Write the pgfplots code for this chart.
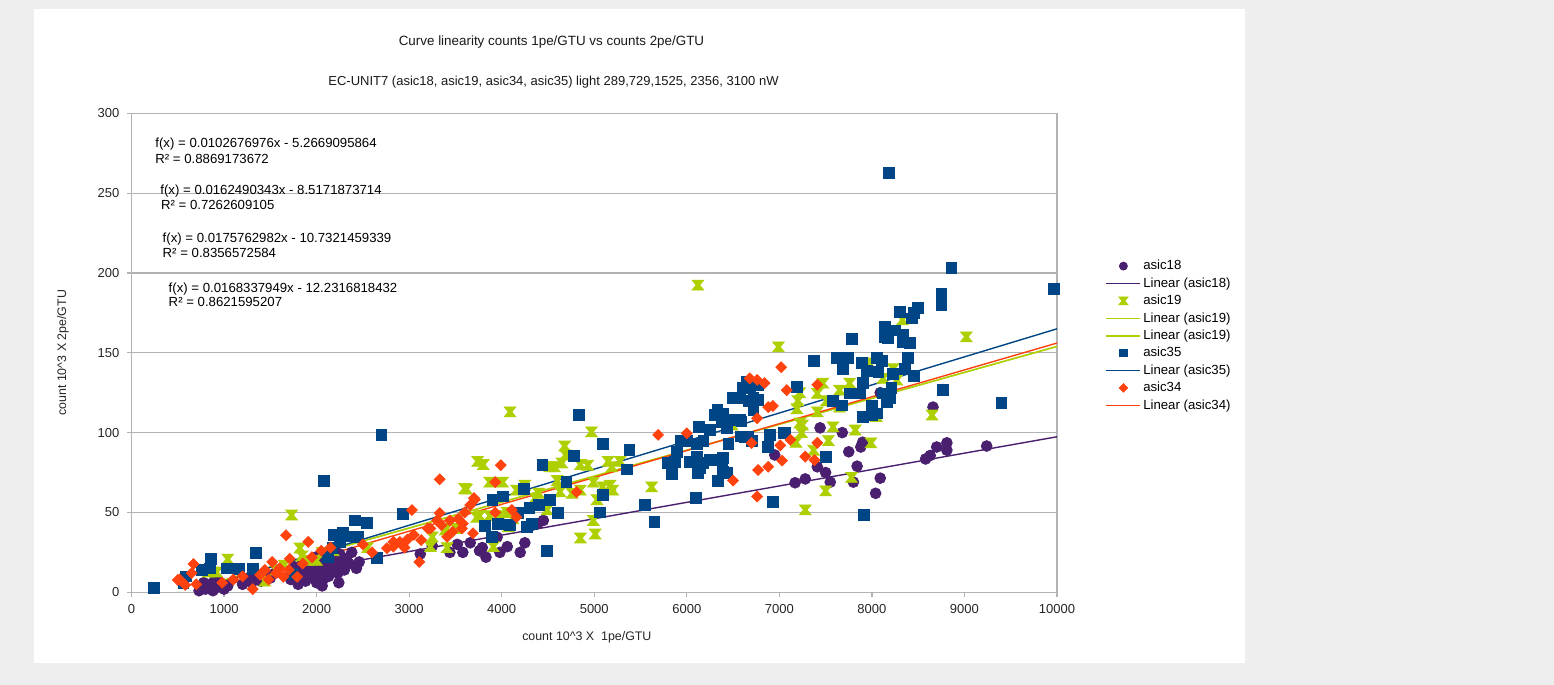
\documentclass[border=0pt]{standalone}
\usepackage{pgfplots}
\pgfplotsset{compat=1.18}
\usepackage{fontspec}
\setmainfont{Liberation Sans}
\definecolor{c18}{HTML}{4B1F6F}
\definecolor{c19}{HTML}{AECF00}
\definecolor{c35}{HTML}{004586}
\definecolor{c34}{HTML}{FF420E}
\definecolor{gridgray}{HTML}{B3B3B3}
\definecolor{bggray}{HTML}{EEEEEE}
\pgfdeclareplotmark{hourglass}{%
  \pgfpathmoveto{\pgfpoint{-\pgfplotmarksize}{0.85\pgfplotmarksize}}%
  \pgfpathlineto{\pgfpoint{\pgfplotmarksize}{0.85\pgfplotmarksize}}%
  \pgfpathlineto{\pgfpoint{0.3\pgfplotmarksize}{0pt}}%
  \pgfpathlineto{\pgfpoint{\pgfplotmarksize}{-0.85\pgfplotmarksize}}%
  \pgfpathlineto{\pgfpoint{-\pgfplotmarksize}{-0.85\pgfplotmarksize}}%
  \pgfpathlineto{\pgfpoint{-0.3\pgfplotmarksize}{0pt}}%
  \pgfpathclose
  \pgfusepathqfillstroke
}
\newcommand{\fs}[1]{\fontsize{#1}{#1}\selectfont}
\begin{document}
\begin{tikzpicture}[x=1pt,y=1pt]
\fill[bggray] (0,0) rectangle (777,342.5);
\fill[white] (17,11) rectangle (622.5,338);
\begin{axis}[
  at={(65.75pt,46.35pt)}, anchor=south west,
  scale only axis, width=462.75pt, height=239.5pt,
  xmin=0, xmax=10000, ymin=0, ymax=300,
  xtick={0,1000,...,10000}, ytick={0,50,...,300},
  xtick pos=lower, ytick pos=left,
  tick align=outside, major tick length=2.5pt,
  tick style={gridgray, line width=0.6pt},
  axis line style={gridgray, line width=0.6pt},
  ymajorgrids, grid style={gridgray, line width=0.6pt},
  scaled x ticks=false, scaled y ticks=false,
  tick label style={font=\fs{6.5}, text=black!85},
  /pgf/number format/1000 sep={},
  /pgf/number format/assume math mode=true,
  clip=false,
  legend style={draw=none, fill=none, at={(1.052,0.70)}, anchor=north west,
    font=\fs{6.6}, inner sep=0pt, row sep=0pt,
    nodes={inner sep=1pt, text height=5.2pt, text depth=1.5pt}},
  legend cell align=left,
]
\addlegendimage{only marks, mark=*, mark size=2pt, c18}
\addlegendentry{asic18}
\addlegendimage{draw=c18, line width=0.8pt}
\addlegendentry{Linear (asic18)}
\addlegendimage{only marks, mark=hourglass, mark size=2.3pt, c19}
\addlegendentry{asic19}
\addlegendimage{draw=c19, line width=0.8pt}
\addlegendentry{Linear (asic19)}
\addlegendimage{draw=c19, line width=0.8pt}
\addlegendentry{Linear (asic19)}
\addlegendimage{only marks, mark=square*, mark size=1.8pt, c35}
\addlegendentry{asic35}
\addlegendimage{draw=c35, line width=0.8pt}
\addlegendentry{Linear (asic35)}
\addlegendimage{only marks, mark=square*, mark size=1.5pt, mark options={rotate=45}, c34}
\addlegendentry{asic34}
\addlegendimage{draw=c34, line width=0.8pt}
\addlegendentry{Linear (asic34)}

% asic18
\addplot[forget plot, only marks, mark=*, mark size=2.7pt, c18] coordinates {
(730,1) (760,3) (780,6) (800,2) (850,5) (880,1) (900,8) (920,3) (960,6) (1000,2) (1040,4)
(1200,5) (1260,9) (1300,6) (1350,10) (1400,7) (1500,9) (1550,12)
(1720,8) (1760,16) (1780,12) (1800,5) (1830,10) (1850,19) (1860,15) (1880,7) (1900,11) (1920,18) (1950,9) (1970,13) (1990,22) (2000,6) (2010,16) (2030,11) (2050,20) (2060,4) (2070,8) (2090,14) (2100,25) (2110,18) (2130,10) (2150,22) (2170,13) (2190,16) (2200,26) (2210,20) (2230,12) (2240,6) (2250,24) (2280,17) (2300,14) (2320,21) (2350,18) (2380,25) (2430,15) (2460,19)
(3120,24) (3250,29) (3440,25) (3520,30) (3580,25) (3660,31) (3760,26) (3790,28) (3830,22) (3950,34.5) (3980,25) (4060,28.6) (4200,25) (4250,31) (4330,42) (4390,43) (4450,45)
(6950,86) (7170,68.6) (7280,71) (7410,78.6) (7440,103) (7500,75) (7550,69) (7680,100) (7750,88) (7800,69) (7840,79) (7880,91) (7900,94) (8040,62) (8090,71.5) (8090,125) (8580,83.5) (8630,85.7) (8660,116) (8700,91) (8810,93.6) (8810,89) (9240,91.6)
};
% asic19
\addplot[forget plot, only marks, mark=hourglass, mark size=2.9pt, c19] coordinates {
(830,12.7) (920,12.7) (1040,20.8) (1440,7) (1560,14) (1650,17) (1730,48.4) (1820,27.7) (1840,22.7) (1900,20) (2000,20) (2060,25) (2180,26) (2550,28)
(3230,28.6) (3250,34.7) (3390,39) (3400,40) (3410,28) (3510,40) (3600,65) (3620,64.6) (3730,47) (3740,82) (3760,48) (3800,80) (3870,69) (3870,48) (3910,28.6) (3980,48) (4010,69) (4060,50) (4070,41) (4090,113) (4120,46) (4160,64) (4250,67) (4360,59) (4400,62) (4490,51.6) (4520,78.6) (4570,78.6) (4600,70) (4630,63) (4650,81) (4680,91.6) (4690,86) (4760,62) (4850,80) (4850,64) (4850,34) (4930,79.6) (4970,100.5) (4990,69) (4990,45) (5010,36.5) (5030,58) (5090,66) (5150,82) (5170,67) (5190,78.6) (5200,64) (5280,82) (5620,66)
(6120,192.4) (6490,104.8) (6990,153.7) (7180,94) (7190,115) (7200,120) (7220,125) (7220,106) (7240,100) (7250,104.8) (7280,51.6) (7370,89) (7410,124.6) (7410,113) (7470,131) (7500,63.5) (7510,120) (7530,95) (7580,103.6) (7650,126.6) (7650,116) (7760,131) (7780,72) (7820,101.6) (7970,143.6) (7990,93.6) (8050,110) (8120,134) (8230,140) (8270,133) (8330,170.6) (8650,111) (9020,160)
};
% asic35
\addplot[forget plot, only marks, mark=square*, mark size=2.7pt, c35] coordinates {
(243,3) (560,6) (590,10) (760,14) (850,15) (860,21) (1030,15) (1160,14.5) (1310,14.5) (1340,24.6) (1730,11.4) (2080,70) (2120,22) (2170,28) (2190,36) (2250,31.5) (2280,37) (2360,35) (2410,45) (2450,34.5) (2540,43.5) (2650,21.5) (2700,98.5) (2930,49)
(3820,41.7) (3890,34.5) (3900,58) (3960,43) (4010,60) (4090,42) (4180,49.6) (4240,64.7) (4270,41) (4300,53) (4330,43) (4400,54.5) (4440,80) (4490,26) (4520,58) (4610,49.6) (4700,69) (4780,85.5) (4830,111) (5060,50) (5095,93) (5095,61) (5350,77) (5380,89) (5550,54.5) (5650,44)
(5800,81) (5840,74) (5870,81.6) (5890,88) (5930,95) (6000,95) (6035,81.6) (6100,59) (6110,85) (6110,93) (6120,75) (6130,103.6) (6140,78) (6180,81) (6180,95) (6250,83) (6250,101.7) (6300,111) (6330,114) (6340,70) (6380,83) (6380,106.7) (6390,75.5) (6390,112) (6390,84) (6430,75) (6430,103) (6450,93) (6450,108) (6500,121.7) (6570,108) (6580,122) (6580,97.6) (6590,107) (6610,128) (6625,97) (6650,132) (6660,97.5) (6670,120) (6680,128.7) (6700,95) (6720,122) (6720,114) (6770,130) (6770,120.6) (6880,91) (6900,98.6) (6930,56.6) (7050,100) (7060,99.6) (7190,128.7)
(7370,145) (7500,85) (7580,120) (7620,147) (7680,117) (7690,140) (7740,147) (7760,124.6) (7780,158.6) (7870,124.6) (7890,143.6) (7900,110) (7900,131) (7910,48.5) (7950,138.6) (8000,117) (8000,111) (8050,146.6) (8050,112) (8070,138) (8110,145) (8120,124.6) (8140,166) (8140,160) (8160,119) (8170,159) (8185,262.6) (8195,122) (8210,128) (8230,137) (8250,164) (8300,175.5) (8330,157) (8340,161) (8360,140) (8390,146.6) (8410,156) (8430,171.6) (8450,175) (8450,135.5) (8500,178) (8750,187) (8750,180) (8770,127) (8860,203) (9400,118.7) (9970,190)
};
% asic34
\addplot[forget plot, only marks, mark=square*, mark size=1.9pt, mark options={rotate=45}, c34] coordinates {
(500,7.7) (520,8) (580,4.6) (650,12) (670,17.7) (700,5) (980,6) (1100,8) (1200,10) (1310,2) (1390,11) (1440,14) (1480,8) (1520,19) (1560,12) (1600,15) (1640,9.7) (1670,35.7) (1700,14) (1710,21) (1790,9.7) (1850,18) (1910,31.6) (1950,22) (2050,26) (2150,28) (2500,30) (2600,25) (2760,27.6) (2830,31.6) (2830,28.6) (2900,31.6) (2950,28) (2980,33) (3030,51.5) (3050,36) (3110,19)
(3130,32.7) (3200,40) (3230,40) (3300,45) (3330,70.8) (3330,49.6) (3350,42) (3410,34.7) (3440,45) (3470,38) (3530,46) (3570,40) (3580,43) (3600,50) (3660,54.6) (3690,37) (3700,59) (3710,58) (3930,69) (3930,50) (3990,79.6) (4110,51.6) (4160,47) (4810,62.8)
(5690,98.6) (6000,99.6) (6500,70) (6680,134) (6700,93.5) (6760,133) (6760,109) (6760,60) (6770,76.6) (6840,131) (6880,116) (6880,78.6) (6930,116.7) (7010,92) (7020,141) (7030,82.5) (7080,126.6) (7120,95.5) (7280,85) (7380,82.8) (7410,130) (7410,93.6)
};
% trend lines
\addplot[forget plot, c18, line width=0.7pt] coordinates {(730,2.2285) (10000,97.410)};
\addplot[forget plot, c19, line width=0.7pt] coordinates {(830,4.9695) (10000,153.973)};
\addplot[forget plot, c19, line width=0.7pt] coordinates {(830,4.9695) (10000,153.973)};
\addplot[forget plot, c35, line width=0.7pt] coordinates {(780,2.9774) (10000,165.031)};
\addplot[forget plot, c34, line width=0.7pt] coordinates {(760,0.562) (10000,156.106)};

% equations
\node[anchor=west, font=\fs{6.6}, inner sep=0pt] at (axis cs:254,280.6) {f(x) = 0.0102676976x - 5.2669095864};
\node[anchor=west, font=\fs{6.6}, inner sep=0pt] at (axis cs:254,271.4) {R² = 0.8869173672};
\node[anchor=west, font=\fs{6.6}, inner sep=0pt] at (axis cs:308,251.5) {f(x) = 0.0162490343x - 8.5171873714};
\node[anchor=west, font=\fs{6.6}, inner sep=0pt] at (axis cs:315,242.3) {R² = 0.7262609105};
\node[anchor=west, font=\fs{6.6}, inner sep=0pt] at (axis cs:333,221.1) {f(x) = 0.0175762982x - 10.7321459339};
\node[anchor=west, font=\fs{6.6}, inner sep=0pt] at (axis cs:333,212.3) {R² = 0.8356572584};
\node[anchor=west, font=\fs{6.6}, inner sep=0pt] at (axis cs:398,190.0) {f(x) = 0.0168337949x - 12.2316818432};
\node[anchor=west, font=\fs{6.6}, inner sep=0pt] at (axis cs:398,181.6) {R² = 0.8621595207};

% titles and labels
\node[font=\fs{6.7}, text=black!90] at (rel axis cs:0.4538,1.149) {Curve linearity counts 1pe/GTU vs counts 2pe/GTU};
\node[font=\fs{6.5}, text=black!90] at (rel axis cs:0.456,1.0653) {EC-UNIT7 (asic18, asic19, asic34, asic35) light 289,729,1525, 2356, 3100 nW};
\node[font=\fs{6.2}, text=black!85] at (rel axis cs:0.492,-0.0933) {count 10\textasciicircum 3 X\ \ 1pe/GTU};
\node[font=\fs{6.2}, text=black!85, rotate=90] at (rel axis cs:-0.074,0.5) {count 10\textasciicircum 3 X 2pe/GTU};
\end{axis}
\pgfresetboundingbox
\useasboundingbox (0,0) rectangle (777,342.5);
\end{tikzpicture}
\end{document}
